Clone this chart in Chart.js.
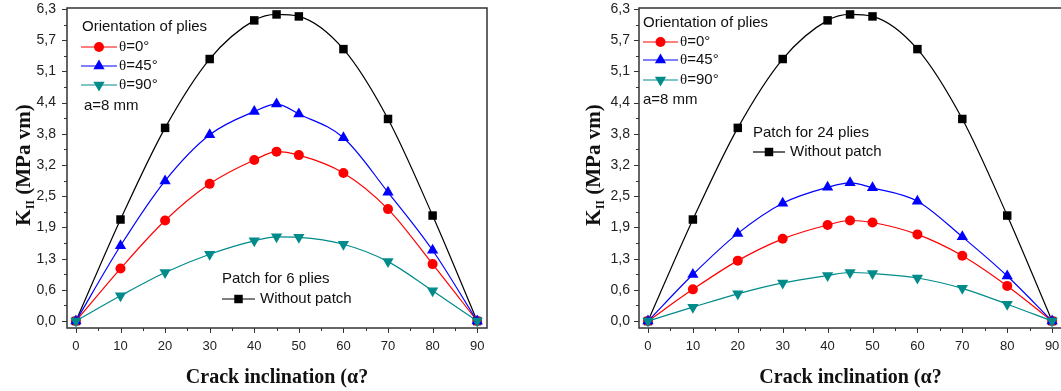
<!DOCTYPE html>
<html>
<head>
<meta charset="utf-8">
<script src="https://cdn.jsdelivr.net/npm/chart.js@4"></script>
<style>
html,body{margin:0;padding:0;background:#fff;overflow:hidden;width:1061px;height:391px;position:relative}
#c1{position:absolute;left:0;top:0}
#c2{position:absolute;left:560px;top:0}
</style>
</head>
<body>
<canvas id="c1" width="530" height="391"></canvas>
<canvas id="c2" width="510" height="391"></canvas>
<script>
// ---- data ----
const angles = [0, 10, 20, 30, 40, 45, 50, 60, 70, 80, 90];
const withoutPatch = [0, 2.05, 3.90, 5.29, 6.07, 6.19, 6.15, 5.49, 4.08, 2.13, 0];
const p6Theta0  = [0, 1.06, 2.03, 2.77, 3.25, 3.42, 3.35, 2.99, 2.26, 1.15, 0];
const p6Theta45 = [0, 1.52, 2.83, 3.76, 4.23, 4.38, 4.18, 3.70, 2.60, 1.43, 0];
const p6Theta90 = [0, 0.51, 0.98, 1.35, 1.62, 1.70, 1.69, 1.55, 1.20, 0.61, 0];
const p24Theta0  = [0, 0.64, 1.22, 1.66, 1.94, 2.03, 1.99, 1.75, 1.32, 0.71, 0];
const p24Theta45 = [0, 0.94, 1.77, 2.38, 2.70, 2.79, 2.69, 2.42, 1.70, 0.91, 0];
const p24Theta90 = [0, 0.28, 0.55, 0.77, 0.92, 0.98, 0.96, 0.87, 0.66, 0.34, 0];
const xTickValues = [0, 10, 20, 30, 40, 50, 60, 70, 80, 90];
const xTickLabels = ['0', '10', '20', '30', '40', '50', '60', '70', '80', '90'];
const yTickLabels = ['0,0', '0,6', '1,3', '1,9', '2,5', '3,2', '3,8', '4,4', '5,1', '5,7', '6,3'];
const yTickStep = 0.63;
const seriesLabels = { t0: '=0°', t45: '=45°', t90: '=90°', np: 'Without patch' };

// ---- styles ----
const styles = {
  np:  { color: '#000000', pointStyle: 'rect', radius: 6, rotation: 0 },
  t0:  { color: '#ff0000', pointStyle: 'circle', radius: 5, rotation: 0 },
  t45: { color: '#0000ff', pointStyle: 'triangle', radius: 6.5, rotation: 0 },
  t90: { color: '#008b8b', pointStyle: 'triangle', radius: 6.5, rotation: 180 }
};
const SANS = '"Liberation Sans", Arial, sans-serif';
const SERIF = '"Liberation Serif", "Times New Roman", serif';

function pts(vals) { return angles.map((a, i) => ({ x: a, y: vals[i] })); }
function ds(key, vals) {
  const s = styles[key];
  return {
    label: seriesLabels[key], data: pts(vals),
    borderColor: s.color, backgroundColor: s.color, borderWidth: 1.2,
    pointStyle: s.pointStyle, pointRadius: s.radius, pointRotation: s.rotation,
    pointBorderWidth: 0, pointHoverRadius: s.radius,
    cubicInterpolationMode: 'monotone', fill: false, clip: false
  };
}

function drawRow(ctx, x1, x2, y, key, textX) {
  const s = styles[key];
  ctx.strokeStyle = s.color; ctx.lineWidth = 1.2;
  ctx.beginPath(); ctx.moveTo(x1, y); ctx.lineTo(x2, y); ctx.stroke();
  ctx.fillStyle = s.color;
  Chart.helpers.drawPoint(ctx, { pointStyle: s.pointStyle, radius: s.radius, rotation: s.rotation, borderWidth: 0 }, (x1 + x2) / 2, y);
  ctx.fillStyle = '#111';
  ctx.textBaseline = 'middle'; ctx.textAlign = 'left';
  if (key === 'np') {
    ctx.font = '15px ' + SANS;
    ctx.fillText(seriesLabels[key], textX, y);
  } else {
    ctx.font = '15px ' + SERIF;
    ctx.fillText('θ', textX, y);
    const w = ctx.measureText('θ').width;
    ctx.font = '15px ' + SANS;
    ctx.fillText(seriesLabels[key], textX + w, y);
  }
}

const decoPlugin = {
  id: 'deco',
  beforeDatasetsDraw(chart, args, o) {
    const { ctx, chartArea: a, scales: { x, y } } = chart;
    ctx.save();
    ctx.strokeStyle = '#333'; ctx.lineWidth = 1;
    for (let v = 0; v <= 90; v += 5) {
      const px = Math.round(x.getPixelForValue(v)) + 0.5;
      const len = v % 10 === 0 ? 5 : 3;
      ctx.beginPath(); ctx.moveTo(px, a.bottom); ctx.lineTo(px, a.bottom + len); ctx.stroke();
    }
    for (let i = 0; i < yTickLabels.length; i++) {
      const py = Math.round(y.getPixelForValue(i * yTickStep)) + 0.5;
      ctx.beginPath(); ctx.moveTo(a.left, py); ctx.lineTo(a.left - 5, py); ctx.stroke();
      if (i < yTickLabels.length - 1) {
        const pm = Math.round(y.getPixelForValue((i + 0.5) * yTickStep)) + 0.5;
        ctx.beginPath(); ctx.moveTo(a.left, pm); ctx.lineTo(a.left - 3, pm); ctx.stroke();
      }
    }
    ctx.strokeStyle = '#333'; ctx.lineWidth = 1.5;
    ctx.strokeRect(a.left, a.top, a.right - a.left, a.bottom - a.top);
    ctx.restore();
  },
  afterDraw(chart, args, o) {
    const { ctx, chartArea: a } = chart;
    ctx.save();
    // x title
    ctx.fillStyle = '#111';
    ctx.font = 'bold 20px ' + SERIF;
    ctx.textAlign = 'center'; ctx.textBaseline = 'middle';
    ctx.fillText('Crack inclination (α?', (a.left + a.right) / 2, o.xTitleY);
    // y title (rotated)
    const cy = (a.top + a.bottom) / 2 - 3;
    ctx.translate(o.yTitleX, cy);
    ctx.rotate(-Math.PI / 2);
    ctx.textAlign = 'left'; ctx.textBaseline = 'alphabetic';
    const fK = 'bold 21px ' + SERIF, fS = 'bold 12px ' + SERIF;
    ctx.font = fK; const wK = ctx.measureText('K').width;
    ctx.font = fS; const wS = ctx.measureText('II').width;
    ctx.font = fK; const wR = ctx.measureText(' (MPa vm)').width;
    let u = -(wK + wS + wR) / 2;
    const base = 7;
    ctx.font = fK; ctx.fillText('K', u, base); u += wK;
    ctx.font = fS; ctx.fillText('II', u, base + 4); u += wS;
    ctx.font = fK; ctx.fillText(' (MPa vm)', u, base);
    ctx.restore();
    // legends
    ctx.save();
    const L = o.legend;
    ctx.fillStyle = '#111'; ctx.font = '15px ' + SANS;
    ctx.textAlign = 'left'; ctx.textBaseline = 'middle';
    ctx.fillText('Orientation of plies', L.x, L.titleY);
    drawRow(ctx, L.x1, L.x2, L.rows[0], 't0', L.tx);
    drawRow(ctx, L.x1, L.x2, L.rows[1], 't45', L.tx);
    drawRow(ctx, L.x1, L.x2, L.rows[2], 't90', L.tx);
    ctx.fillStyle = '#111'; ctx.font = '15px ' + SANS;
    ctx.fillText('a=8 mm', L.ax, L.aY);
    const P = o.patch;
    ctx.fillText(P.title, P.x, P.titleY);
    drawRow(ctx, P.x1, P.x2, P.rowY, 'np', P.tx);
    ctx.restore();
  }
};

function makeChart(id, sets, o) {
  return new Chart(document.getElementById(id), {
    type: 'line',
    data: { datasets: sets },
    options: {
      responsive: false, animation: false, devicePixelRatio: 1,
      layout: { padding: { left: 0, right: o.padRight, top: 8, bottom: 0 } },
      plugins: { legend: { display: false }, tooltip: { enabled: false }, deco: o },
      scales: {
        x: {
          type: 'linear', min: -2, max: 92.2,
          afterBuildTicks: s => { s.ticks = xTickValues.map(v => ({ value: v })); },
          ticks: { callback: (v, i) => xTickLabels[i], color: '#222', font: { family: SANS, size: 13 }, padding: 11, maxRotation: 0, autoSkip: false },
          grid: { display: false, drawTicks: false, tickLength: 0 },
          border: { display: false },
          afterFit: s => { s.height = 63; s.paddingLeft = 0; s.paddingRight = 0; }
        },
        y: {
          type: 'linear', min: -0.14, max: 6.32,
          afterBuildTicks: s => { s.ticks = yTickLabels.map((l, i) => ({ value: i * yTickStep })); },
          ticks: { callback: (v, i) => yTickLabels[i], color: '#222', font: { family: SANS, size: 14 }, padding: o.yPad, autoSkip: false },
          grid: { display: false, drawTicks: false, tickLength: 0 },
          border: { display: false },
          afterFit: s => { s.width = o.yWidth; s.paddingTop = 0; s.paddingBottom = 0; }
        }
      }
    },
    plugins: [decoPlugin]
  });
}

makeChart('c1', [ds('t90', p6Theta90), ds('t45', p6Theta45), ds('t0', p6Theta0), ds('np', withoutPatch)], {
  padRight: 43, yWidth: 67, yPad: 11, xTitleY: 378, yTitleX: 23,
  legend: { x: 82, titleY: 27, x1: 81, x2: 117, tx: 119, rows: [47, 66, 85], ax: 84, aY: 106 },
  patch: { title: 'Patch for 6 plies', x: 222, titleY: 279, x1: 222, x2: 255, rowY: 299, tx: 260 }
});
makeChart('c2', [ds('t90', p24Theta90), ds('t45', p24Theta45), ds('t0', p24Theta0), ds('np', withoutPatch)], {
  padRight: 8, yWidth: 79, yPad: 9, xTitleY: 378, yTitleX: 33,
  legend: { x: 83, titleY: 23, x1: 83, x2: 118, tx: 120, rows: [42, 60, 80], ax: 83, aY: 100 },
  patch: { title: 'Patch for 24 plies', x: 193, titleY: 133, x1: 193, x2: 225, rowY: 152, tx: 230 }
});
</script>
</body>
</html>
